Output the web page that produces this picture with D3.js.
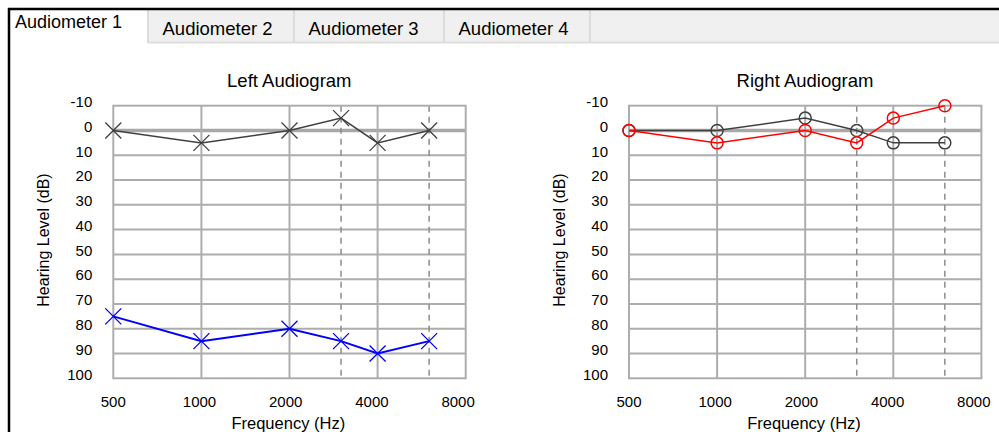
<!DOCTYPE html>
<html>
<head>
<meta charset="utf-8">
<script src="https://cdn.jsdelivr.net/npm/d3@7"></script>
<style>
  html, body { margin: 0; padding: 0; background: #fff; }
  svg { display: block; font-family: "Liberation Sans", Arial, sans-serif; }
</style>
</head>
<body>
<svg id="chart" width="999" height="432"></svg>
<script>
// ---- data ----
const tabs = ["Audiometer 1", "Audiometer 2", "Audiometer 3", "Audiometer 4"];
const freqs = [500, 1000, 2000, 3000, 4000, 6000];
const leftGray = [0, 5, 0, -5, 5, 0];
const leftBlue = [75, 85, 80, 85, 90, 85];
const rightGray = [0, 0, -5, 0, 5, 5];
const rightRed = [0, 5, 0, 5, -5, -10];
const xTicks = [500, 1000, 2000, 4000, 8000];
const solidFreqs = [1000, 2000, 4000];
const dashedFreqs = [3000, 6000];
const yTicks = [-10, 0, 10, 20, 30, 40, 50, 60, 70, 80, 90, 100];
const yGrid = [10, 20, 30, 40, 50, 60, 70, 80, 90];
const titles = ["Left Audiogram", "Right Audiogram"];

const svg = d3.select("#chart");

// ---- tab strip ----
const tabEdges = [10, 148, 294, 444, 590];
svg.append("rect").attr("x", 148).attr("y", 10).attr("width", 851).attr("height", 33)
  .attr("fill", "#f0f0f0");
svg.append("line").attr("x1", 148).attr("x2", 999).attr("y1", 42.5).attr("y2", 42.5)
  .attr("stroke", "#dedede").attr("stroke-width", 2);
tabEdges.slice(1).forEach(x => {
  svg.append("line").attr("x1", x).attr("x2", x).attr("y1", 10).attr("y2", 43)
    .attr("stroke", "#dcdcdc").attr("stroke-width", 2);
});
tabs.forEach((t, i) => {
  if (i === 0) {
    svg.append("text").attr("x", 15).attr("y", 28).attr("font-size", 18)
      .attr("fill", "#000").text(t);
  } else {
    svg.append("text").attr("x", tabEdges[i] + 14.5).attr("y", 34.5)
      .attr("font-size", 18.5).attr("fill", "#000").text(t);
  }
});
// window border
svg.append("line").attr("x1", 8).attr("x2", 999).attr("y1", 9).attr("y2", 9)
  .attr("stroke", "#000").attr("stroke-width", 2.5);
svg.append("line").attr("x1", 9).attr("x2", 9).attr("y1", 8).attr("y2", 432)
  .attr("stroke", "#000").attr("stroke-width", 2.5);

// ---- audiograms ----
function audiogram(left, title, series) {
  const top = 105.7, bottom = 378.3, width = 352.4;
  const x = d3.scaleLog().base(2).domain([500, 8000]).range([left, left + width]);
  const y = d3.scaleLinear().domain([-10, 100]).range([top, bottom]);
  const g = svg.append("g");

  // horizontal grid
  g.selectAll(".hg").data(yGrid).join("line")
    .attr("x1", x(500)).attr("x2", x(8000))
    .attr("y1", d => y(d)).attr("y2", d => y(d))
    .attr("stroke", "#adadad").attr("stroke-width", 2);
  // zero line
  g.append("line").attr("x1", x(500)).attr("x2", x(8000))
    .attr("y1", y(0)).attr("y2", y(0))
    .attr("stroke", "#a8a8a8").attr("stroke-width", 3.5);
  // vertical solid grid
  g.selectAll(".vg").data(solidFreqs).join("line")
    .attr("x1", d => x(d)).attr("x2", d => x(d))
    .attr("y1", top).attr("y2", bottom)
    .attr("stroke", "#adadad").attr("stroke-width", 2);
  // dashed
  g.selectAll(".vd").data(dashedFreqs).join("line")
    .attr("x1", d => x(d)).attr("x2", d => x(d))
    .attr("y1", top).attr("y2", bottom)
    .attr("stroke", "#8c8c8c").attr("stroke-width", 1.5)
    .attr("stroke-dasharray", "6,5");
  // frame
  g.append("rect").attr("x", x(500)).attr("y", top)
    .attr("width", x(8000) - x(500)).attr("height", bottom - top)
    .attr("fill", "none").attr("stroke", "#adadad").attr("stroke-width", 2);

  // y tick labels
  g.selectAll(".yl").data(yTicks).join("text")
    .attr("x", x(500) - 21).attr("y", d => y(d) - 4).attr("dy", "0.35em")
    .attr("text-anchor", "end").attr("font-size", 15).attr("fill", "#000")
    .text(d => d);
  // x tick labels (the source control draws them slightly left of the gridlines)
  g.selectAll(".xl").data(xTicks).join("text")
    .attr("x", (d, i) => x(d) - 1.9 * i).attr("y", 407)
    .attr("text-anchor", "middle").attr("font-size", 15).attr("fill", "#000")
    .text(d => d);
  // titles
  g.append("text").attr("x", left + 176).attr("y", 87)
    .attr("text-anchor", "middle").attr("font-size", 18.5).attr("fill", "#000").text(title);
  g.append("text").attr("x", left + 175).attr("y", 429)
    .attr("text-anchor", "middle").attr("font-size", 16.5).attr("fill", "#000").text("Frequency (Hz)");
  g.append("text")
    .attr("transform", `translate(${left - 70},240) rotate(-90)`)
    .attr("dy", "0.35em")
    .attr("text-anchor", "middle").attr("font-size", 16).attr("fill", "#000").text("Hearing Level (dB)");

  // series
  const line = d3.line().x((d, i) => x(freqs[i])).y(d => y(d));
  series.forEach(s => {
    g.append("path").datum(s.values).attr("d", line)
      .attr("fill", "none").attr("stroke", s.color).attr("stroke-width", s.width);
    if (s.marker === "x") {
      const r = 8;
      g.selectAll(null).data(s.values).join("path")
        .attr("d", (d, i) => {
          const cx = x(freqs[i]), cy = y(d);
          return `M${cx - r},${cy - r}L${cx + r},${cy + r}M${cx - r},${cy + r}L${cx + r},${cy - r}`;
        })
        .attr("stroke", s.color).attr("stroke-width", 1.3).attr("fill", "none");
    } else {
      g.selectAll(null).data(s.values).join("circle")
        .attr("cx", (d, i) => x(freqs[i])).attr("cy", d => y(d)).attr("r", 6)
        .attr("fill", "none").attr("stroke", s.color).attr("stroke-width", 1.5);
    }
  });
}

audiogram(113.3, titles[0], [
  { values: leftGray, color: "#404040", width: 1.5, marker: "x" },
  { values: leftBlue, color: "#0000ff", width: 2, marker: "x" }
]);
audiogram(629, titles[1], [
  { values: rightGray, color: "#404040", width: 1.5, marker: "o" },
  { values: rightRed, color: "#ff0000", width: 1.5, marker: "o" }
]);
</script>
</body>
</html>
